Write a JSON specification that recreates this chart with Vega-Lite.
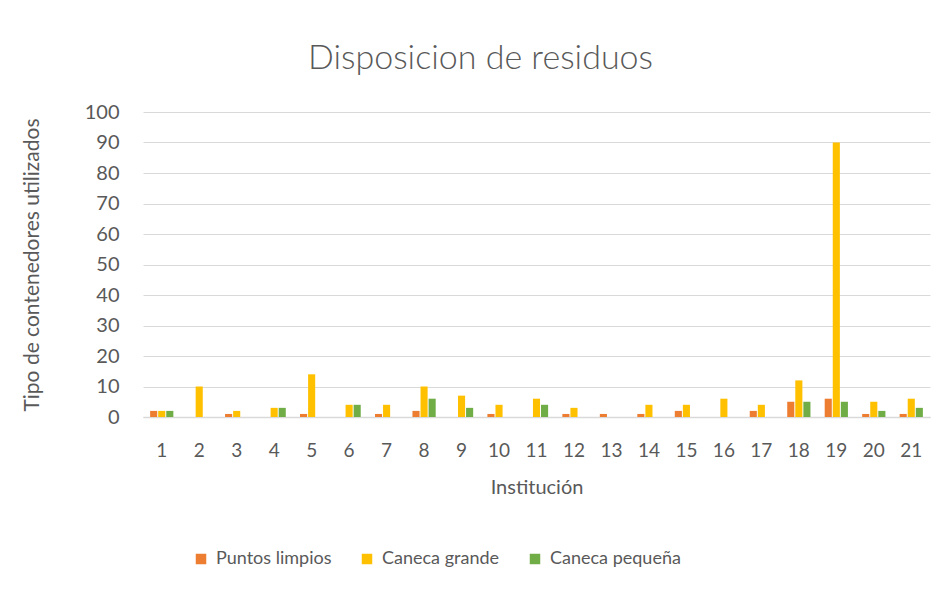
{
  "$schema": "https://vega.github.io/schema/vega-lite/v6.json",
  "width": 787,
  "height": 305,
  "autosize": {"type": "none"},
  "padding": {"left": 143, "top": 112, "right": 11, "bottom": 172},
  "background": "white",
  "config": {
    "font": "Lato",
    "view": {"stroke": null},
    "axis": {"labelColor": "#595959", "titleColor": "#595959", "labelFont": "Lato", "titleFont": "Lato"}
  },
  "title": {
    "text": "Disposicion de residuos",
    "fontSize": 34,
    "font": "Lato",
    "fontWeight": 300,
    "color": "#595959",
    "anchor": "middle",
    "dx": -56,
    "offset": 26
  },
  "data": {
    "values": [
      {"inst": 1, "tipo": "Puntos limpios", "v": 2}, {"inst": 1, "tipo": "Caneca grande", "v": 2}, {"inst": 1, "tipo": "Caneca pequeña", "v": 2},
      {"inst": 2, "tipo": "Puntos limpios", "v": 0}, {"inst": 2, "tipo": "Caneca grande", "v": 10}, {"inst": 2, "tipo": "Caneca pequeña", "v": 0},
      {"inst": 3, "tipo": "Puntos limpios", "v": 1}, {"inst": 3, "tipo": "Caneca grande", "v": 2}, {"inst": 3, "tipo": "Caneca pequeña", "v": 0},
      {"inst": 4, "tipo": "Puntos limpios", "v": 0}, {"inst": 4, "tipo": "Caneca grande", "v": 3}, {"inst": 4, "tipo": "Caneca pequeña", "v": 3},
      {"inst": 5, "tipo": "Puntos limpios", "v": 1}, {"inst": 5, "tipo": "Caneca grande", "v": 14}, {"inst": 5, "tipo": "Caneca pequeña", "v": 0},
      {"inst": 6, "tipo": "Puntos limpios", "v": 0}, {"inst": 6, "tipo": "Caneca grande", "v": 4}, {"inst": 6, "tipo": "Caneca pequeña", "v": 4},
      {"inst": 7, "tipo": "Puntos limpios", "v": 1}, {"inst": 7, "tipo": "Caneca grande", "v": 4}, {"inst": 7, "tipo": "Caneca pequeña", "v": 0},
      {"inst": 8, "tipo": "Puntos limpios", "v": 2}, {"inst": 8, "tipo": "Caneca grande", "v": 10}, {"inst": 8, "tipo": "Caneca pequeña", "v": 6},
      {"inst": 9, "tipo": "Puntos limpios", "v": 0}, {"inst": 9, "tipo": "Caneca grande", "v": 7}, {"inst": 9, "tipo": "Caneca pequeña", "v": 3},
      {"inst": 10, "tipo": "Puntos limpios", "v": 1}, {"inst": 10, "tipo": "Caneca grande", "v": 4}, {"inst": 10, "tipo": "Caneca pequeña", "v": 0},
      {"inst": 11, "tipo": "Puntos limpios", "v": 0}, {"inst": 11, "tipo": "Caneca grande", "v": 6}, {"inst": 11, "tipo": "Caneca pequeña", "v": 4},
      {"inst": 12, "tipo": "Puntos limpios", "v": 1}, {"inst": 12, "tipo": "Caneca grande", "v": 3}, {"inst": 12, "tipo": "Caneca pequeña", "v": 0},
      {"inst": 13, "tipo": "Puntos limpios", "v": 1}, {"inst": 13, "tipo": "Caneca grande", "v": 0}, {"inst": 13, "tipo": "Caneca pequeña", "v": 0},
      {"inst": 14, "tipo": "Puntos limpios", "v": 1}, {"inst": 14, "tipo": "Caneca grande", "v": 4}, {"inst": 14, "tipo": "Caneca pequeña", "v": 0},
      {"inst": 15, "tipo": "Puntos limpios", "v": 2}, {"inst": 15, "tipo": "Caneca grande", "v": 4}, {"inst": 15, "tipo": "Caneca pequeña", "v": 0},
      {"inst": 16, "tipo": "Puntos limpios", "v": 0}, {"inst": 16, "tipo": "Caneca grande", "v": 6}, {"inst": 16, "tipo": "Caneca pequeña", "v": 0},
      {"inst": 17, "tipo": "Puntos limpios", "v": 2}, {"inst": 17, "tipo": "Caneca grande", "v": 4}, {"inst": 17, "tipo": "Caneca pequeña", "v": 0},
      {"inst": 18, "tipo": "Puntos limpios", "v": 5}, {"inst": 18, "tipo": "Caneca grande", "v": 12}, {"inst": 18, "tipo": "Caneca pequeña", "v": 5},
      {"inst": 19, "tipo": "Puntos limpios", "v": 6}, {"inst": 19, "tipo": "Caneca grande", "v": 90}, {"inst": 19, "tipo": "Caneca pequeña", "v": 5},
      {"inst": 20, "tipo": "Puntos limpios", "v": 1}, {"inst": 20, "tipo": "Caneca grande", "v": 5}, {"inst": 20, "tipo": "Caneca pequeña", "v": 2},
      {"inst": 21, "tipo": "Puntos limpios", "v": 1}, {"inst": 21, "tipo": "Caneca grande", "v": 6}, {"inst": 21, "tipo": "Caneca pequeña", "v": 3}
    ]
  },
  "mark": {"type": "bar"},
  "encoding": {
    "x": {
      "field": "inst",
      "type": "ordinal",
      "title": "Institución",
      "scale": {"paddingInner": 0.38, "paddingOuter": 0.19},
      "axis": {
        "labelAngle": 0,
        "labelFontSize": 19,
        "titleFontSize": 20,
        "titleFontWeight": "normal",
        "ticks": false,
        "domainColor": "#D9D9D9",
        "domainWidth": 1.5,
        "labelPadding": 24,
        "titlePadding": 17
      }
    },
    "xOffset": {
      "field": "tipo",
      "type": "nominal",
      "sort": ["Puntos limpios", "Caneca grande", "Caneca pequeña"],
      "scale": {"paddingInner": 0.12}
    },
    "y": {
      "field": "v",
      "type": "quantitative",
      "title": "Tipo de contenedores utilizados",
      "scale": {"domain": [0, 100]},
      "axis": {
        "values": [0, 10, 20, 30, 40, 50, 60, 70, 80, 90, 100],
        "labelFontSize": 20,
        "titleFontSize": 21,
        "titleFontWeight": "normal",
        "ticks": false,
        "domain": false,
        "gridColor": "#D9D9D9",
        "labelPadding": 24,
        "titlePadding": 42
      }
    },
    "color": {
      "field": "tipo",
      "type": "nominal",
      "sort": ["Puntos limpios", "Caneca grande", "Caneca pequeña"],
      "scale": {"domain": ["Puntos limpios", "Caneca grande", "Caneca pequeña"], "range": ["#ED7D31", "#FFC000", "#70AD47"]},
      "legend": {
        "title": null,
        "orient": "none",
        "direction": "horizontal",
        "legendX": 49,
        "legendY": 438,
        "symbolType": "square",
        "symbolSize": 110,
        "labelFontSize": 18,
        "labelColor": "#595959",
        "labelFont": "Lato",
        "columnPadding": 26,
        "labelOffset": 6,
        "symbolStrokeWidth": 0
      }
    }
  }
}
